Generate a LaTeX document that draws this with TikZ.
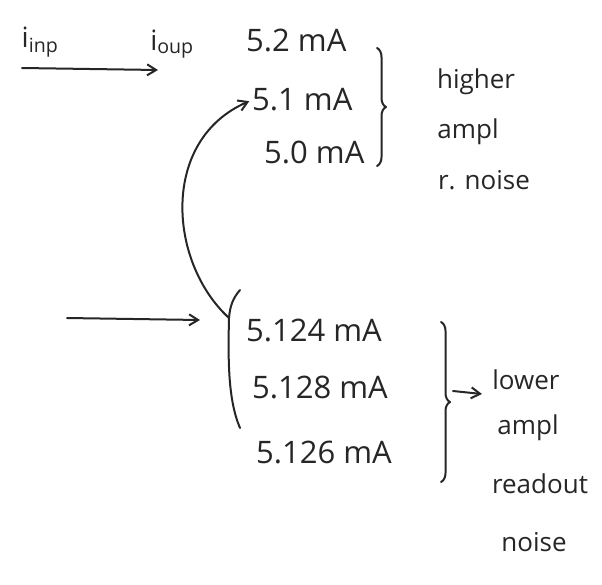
\documentclass[tikz,border=0pt]{standalone}
\usepackage{fontspec}
\setmainfont{Open Sans}
\usetikzlibrary{arrows.meta,decorations.pathreplacing}
\begin{document}
\begin{tikzpicture}[x=1pt,y=-1pt,
  pen/.style={draw=black!85,line width=2pt,line cap=round,line join=round},
  arr/.style={pen,-{Straight Barb[length=9pt,width=11pt]}},
  val/.style={anchor=west,inner sep=0pt,font=\fontsize{31}{31}\selectfont,text=black!85},
  note/.style={inner sep=0pt,font=\fontsize{26}{26}\selectfont,text=black!85},
  curlab/.style={inner sep=0pt,font=\fontsize{28}{28}\selectfont,text=black!85},
  bracepen/.style={pen,decorate,decoration={brace,amplitude=9pt}}]
\useasboundingbox (0,0) rectangle (602,584);

% current labels and the input arrow
\node[curlab] (iinp) at (40,42) {i\textsubscript{inp}};
\node[curlab] (ioup) at (172,44) {i\textsubscript{oup}};
\coordinate (a1s) at (22,68);
\coordinate (a1e) at (158,70);
\draw[arr] (a1s) -- (a1e);

% coarse readings
\node[val] (u1) at (246,40) {5.2 mA};
\node[val] (u2) at (252,100) {5.1 mA};
\node[val] (u3) at (264,152) {5.0 mA};
\coordinate (ub1) at (377,48);
\coordinate (ub2) at (377,166);
\draw[bracepen] (ub1) -- (ub2);

\node[note] (h1) at (476,82) {higher};
\node[note] (h2) at (468,132) {ampl};
\node[note] (h3) at (484,180) {r. noise};

% fine readings
\coordinate (a2s) at (67,318);
\coordinate (a2e) at (200,320);
\draw[arr] (a2s) -- (a2e);

\coordinate (lbt) at (240,290);
\coordinate (lbk) at (229,318);
\coordinate (lbb) at (240,428);
\draw[pen] (lbt) .. controls (233,298) and (230,306) .. (lbk)
  .. controls (228,360) and (228,400) .. (lbb);

\node[val] (l1) at (246,330) {5.124 mA};
\node[val] (l2) at (252,387) {5.128 mA};
\node[val] (l3) at (256,452) {5.126 mA};

\draw[arr,shorten >=3pt] (lbk) .. controls (168,262) and (160,140) .. (u2.west);

\coordinate (lb1) at (441,322);
\coordinate (lb2) at (441,482);
\draw[bracepen] (lb1) -- (lb2);
\coordinate (la1) at (453,391);
\coordinate (la2) at (482,394);
\draw[arr] (la1) -- (la2);

\node[note] (n1) at (526,380) {lower};
\node[note] (n2) at (528,428) {ampl};
\node[note] (n3) at (540,484) {readout};
\node[note] (n4) at (534,542) {noise};
\end{tikzpicture}
\end{document}
